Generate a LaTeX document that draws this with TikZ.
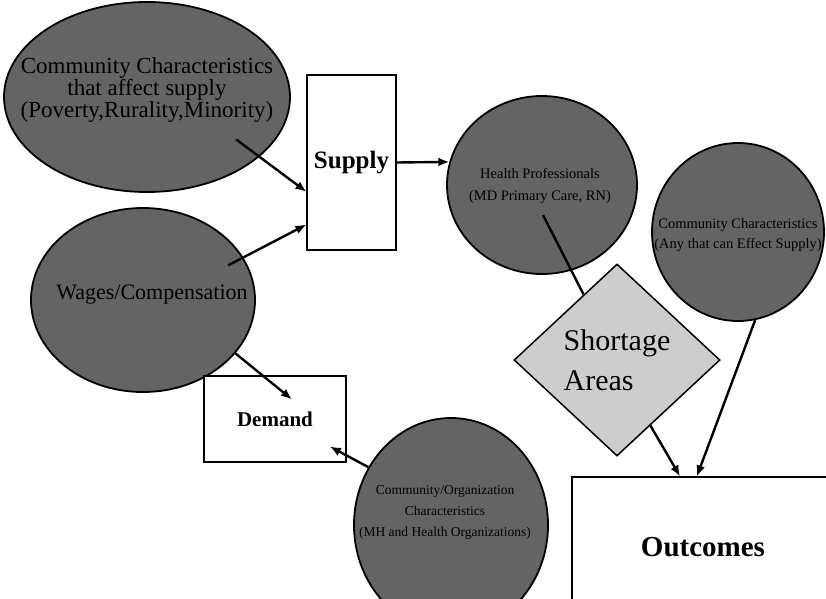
\documentclass[tikz,border=0pt]{standalone}
\usepackage{fontspec}
\setmainfont{Liberation Serif}
\usetikzlibrary{arrows.meta,calc,shapes.geometric}
\definecolor{BlobGray}{RGB}{100,100,100}
\definecolor{AreaGray}{RGB}{205,205,205}

\begin{document}
\begin{tikzpicture}[x=1pt,y=-1pt,>={Latex[length=11pt,width=9pt]},
  blob/.style={ellipse,draw,line width=1.8pt,fill=BlobGray,inner sep=0pt},
  box/.style={rectangle,draw,line width=1.2pt,fill=white,inner sep=0pt},
  blobtext/.style={align=center,inner sep=0pt},
  conn/.style={line width=2.4pt},
  arr/.style={conn,->}]
  \useasboundingbox (0,0) rectangle (826,598);
  % shapes
  \node[blob,minimum width=286pt,minimum height=190pt] (commsup) at (147,97) {};
  \node[blob,minimum width=224pt,minimum height=184pt] (wages) at (143,300) {};
  \node[blob,minimum width=190pt,minimum height=178pt] (health) at (542,185) {};
  \node[blob,minimum width=172pt,minimum height=178pt] (comchar) at (738,232) {};
  \node[blob,minimum width=194pt,minimum height=214pt] (orgchar) at (451,525) {};
  \node[box,minimum width=89pt,minimum height=175pt,font=\fontsize{25}{30}\selectfont\bfseries] (supply) at (351.5,162.5) {Supply};
  \node[box,minimum width=142pt,minimum height=86pt,font=\fontsize{21}{25}\selectfont\bfseries] (demand) at (275,419) {Demand};
  \node[box,minimum width=262pt,minimum height=140pt,font=\fontsize{29}{34}\selectfont\bfseries] (outcomes) at (703,547) {Outcomes};
  \node[diamond,draw,line width=1.5pt,fill=AreaGray,minimum width=206pt,minimum height=192pt,inner sep=0pt,align=left,font=\fontsize{30}{40}\selectfont] (shortage) at (617,360) {Shortage\\Areas};
  \coordinate (hp-foot) at (543,215);
  % connectors
  \draw[arr,shorten <=-29pt] (commsup.-28.6) -- (supply.213.5);
  \draw[arr,shorten <=-17pt] (wages.23) -- (supply.234.5);
  \draw[arr] (supply.east) -- (health.166.2);
  \draw[conn] (hp-foot) -- (shortage);
  \draw[arr] (shortage.-63) -- (outcomes.108);
  \draw[arr] (comchar.-79) -- (outcomes.95);
  \draw[arr,shorten >=-38pt] (wages.-30) -- (demand.106);
  \draw[arr,shorten >=-19pt] (orgchar.145) -- (demand.-27);
  % texts
  \node[blobtext,font=\fontsize{23}{16.5}\selectfont] (commsup-lbl) at (147,90) {Community Characteristics\\that affect supply\\(Poverty,Rurality,Minority)};
  \node[blobtext,font=\fontsize{22}{26}\selectfont] (wages-lbl) at (152,295) {Wages/Compensation};
  \node[blobtext,font=\fontsize{14.5}{22}\selectfont] (health-lbl) at (540,186) {Health Professionals\\(MD Primary Care, RN)};
  \node[blobtext,font=\fontsize{14.5}{20}\selectfont] (comchar-lbl) at (738,235) {Community Characteristics\\(Any that can Effect Supply)};
  \node[blobtext,font=\fontsize{13.5}{21}\selectfont] (orgchar-lbl) at (445,512) {Community/Organization\\Characteristics\\(MH and Health Organizations)};
\end{tikzpicture}
\end{document}
